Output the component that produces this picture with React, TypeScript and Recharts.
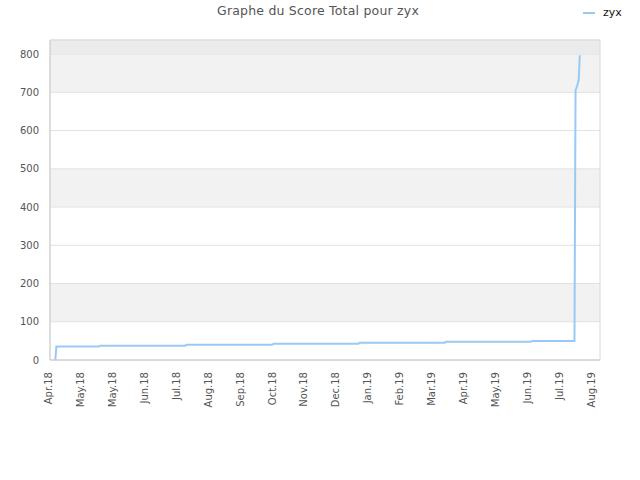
import { LineChart, Line, XAxis, YAxis, CartesianGrid, ReferenceArea } from "recharts";

// jours depuis le début de l'axe (1 tick = 30 jours)
const days = [3, 4, 44, 45, 125, 126, 207, 208, 288, 289, 369, 370, 450, 451, 491, 492, 493, 494, 495, 496];
const scores = [0, 35, 35, 37.5, 37.5, 40, 40, 42.5, 42.5, 45, 45, 47.5, 47.5, 50, 50, 706, 713, 722, 733, 797];

const tickDays = [0, 30, 60, 90, 120, 150, 180, 210, 240, 270, 300, 330, 360, 390, 420, 450, 480, 510];
const tickLabels = [
  "Apr.18", "May.18", "May.18", "Jun.18", "Jul.18", "Aug.18", "Sep.18", "Oct.18", "Nov.18",
  "Dec.18", "Jan.19", "Feb.19", "Mar.19", "Apr.19", "May.19", "Jun.19", "Jul.19", "Aug.19",
];
const yTicks = [0, 100, 200, 300, 400, 500, 600, 700, 800];

const seriesName = "zyx";
const title = "Graphe du Score Total pour zyx";

const data = days.map((d, i) => ({ day: d, score: scores[i] }));

const FONT = "'DejaVu Sans', Verdana, sans-serif";
const LINE = "#99c9f5";

function XTick(props: any) {
  const { x, y, index } = props;
  return (
    <text
      x={x}
      y={y}
      transform={`rotate(-90, ${x}, ${y})`}
      textAnchor="end"
      fontSize={10}
      fontFamily={FONT}
      fill="#555"
    >
      {tickLabels[index]}
    </text>
  );
}

export default function App() {
  return (
    <div style={{ position: "absolute", left: 0, top: 0, width: 640, height: 480, background: "#fff" }}>
      <div
        style={{
          position: "absolute", left: 0, top: 3, width: 636, textAlign: "center",
          fontFamily: FONT, fontSize: 12.5, letterSpacing: 0.2, color: "#555",
        }}
      >
        {title}
      </div>
      <div style={{ position: "absolute", left: 583, top: 6, display: "flex", alignItems: "center", fontFamily: FONT, fontSize: 11, color: "#111" }}>
        <span style={{ display: "inline-block", width: 12, height: 2, background: LINE, marginRight: 8 }} />
        {seriesName}
      </div>
      <LineChart width={640} height={480} data={data} margin={{ top: 40, right: 40, bottom: 0, left: 0 }}>
        <CartesianGrid
          vertical={false}
          stroke="#e2e2e2"
          horizontalFill={["transparent", "#f2f2f2", "#ffffff"]}
        />
        <ReferenceArea y1={800} y2={837} fill="#ebebeb" fillOpacity={1} stroke="none" />
        <ReferenceArea x1={-2} x2={515} y1={0} y2={837} fill="none" stroke="#d8d8d8" />
        <XAxis
          dataKey="day"
          type="number"
          domain={[-2, 515]}
          ticks={tickDays}
          interval={0}
          height={120}
          tickLine={false}
          tickSize={0}
          tickMargin={12}
          axisLine={{ stroke: "#d0d0d0" }}
          tick={<XTick />}
        />
        <YAxis
          type="number"
          domain={[0, 837]}
          ticks={yTicks}
          width={50}
          tickLine={false}
          tickSize={0}
          tickMargin={11}
          axisLine={{ stroke: "#d0d0d0" }}
          tick={{ fontSize: 10, fontFamily: FONT, fill: "#555" }}
        />
        <Line
          type="linear"
          dataKey="score"
          name={seriesName}
          stroke={LINE}
          strokeWidth={2}
          dot={false}
          isAnimationActive={false}
        />
      </LineChart>
    </div>
  );
}
